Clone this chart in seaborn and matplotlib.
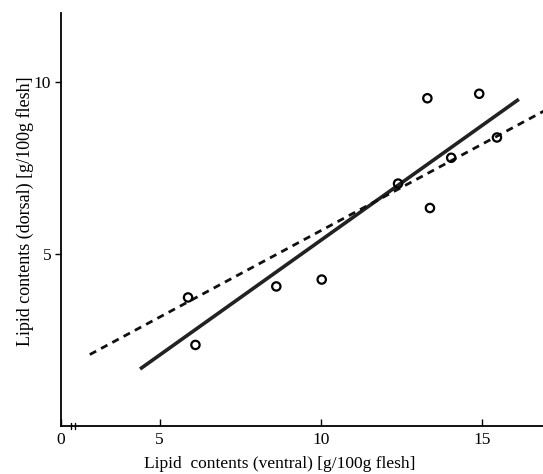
import matplotlib
matplotlib.use("Agg")
import matplotlib.pyplot as plt
import matplotlib.transforms as mtransforms
import seaborn as sns
import pandas as pd

# Data
ventral = [5.88, 6.11, 8.62, 10.03, 12.40, 13.31, 13.39, 14.05, 14.92, 15.47]
dorsal = [3.74, 2.36, 4.06, 4.26, 7.05, 9.53, 6.34, 7.80, 9.66, 8.39]

solid_x = [4.39, 16.15]
solid_y = [1.66, 9.50]
dashed_x = [2.83, 16.95]
dashed_y = [2.08, 9.17]

xtick_vals = [5, 10, 15]
xtick_labels = ["5", "10", "15"]
ytick_vals = [5, 10]
ytick_labels = ["5", "10"]

sns.set_theme(style="white")
plt.rcParams['font.family'] = ['Liberation Serif', 'DejaVu Serif']

fig = plt.figure(figsize=(5.43, 4.74), dpi=100)
ax = fig.add_axes([0.112, 0.101, 0.888, 0.871])

pts = pd.DataFrame({"ventral": ventral, "dorsal": dorsal})
sns.lineplot(x=solid_x, y=solid_y, ax=ax, color="#222222", lw=2.6, solid_capstyle="butt")
sns.lineplot(x=dashed_x, y=dashed_y, ax=ax, color="#111111", lw=2.0,
             linestyle=(0, (2.6, 2.0)))
sns.scatterplot(data=pts, x="ventral", y="dorsal", ax=ax, marker="o", s=36,
                facecolor="none", edgecolor="black", linewidth=1.6, zorder=5)

xmin = 1.93
ax.set_xlim(xmin, 16.9)
ax.set_ylim(0, 12.0)

ax.set_xticks([xmin] + xtick_vals)
ax.set_xticklabels(["0"] + xtick_labels, fontsize=12.5, color="black")
ax.set_yticks(ytick_vals)
ax.set_yticklabels(ytick_labels, fontsize=12.5, color="black")
ax.tick_params(axis="x", bottom=True, direction="in", length=5, width=1.0,
               color="black", pad=4)
ax.tick_params(axis="y", left=True, direction="out", length=4, width=1.0,
               color="black", pad=3)

for s in ["top", "right"]:
    ax.spines[s].set_visible(False)
for s in ["left", "bottom"]:
    ax.spines[s].set_color("black")
    ax.spines[s].set_linewidth(1.3)

# axis break marks near the origin
trans = mtransforms.blended_transform_factory(ax.transData, ax.transAxes)
for bx in [xmin + 0.33, xmin + 0.43]:
    ax.plot([bx, bx], [-0.008, 0.008], transform=trans, color="black", lw=1.0,
            clip_on=False)

ax.set_xlabel("Lipid  contents (ventral) [g/100g flesh]", fontsize=12.5,
              color="black")
ax.xaxis.set_label_coords((280 - 61) / (543 * 0.888), -0.072)
ax.set_ylabel("Lipid contents (dorsal) [g/100g flesh]", fontsize=13,
              color="black")
ax.yaxis.set_label_coords(-0.055, (424 - 209) / (474 * 0.871))

fig.savefig("out.png", dpi=100)
